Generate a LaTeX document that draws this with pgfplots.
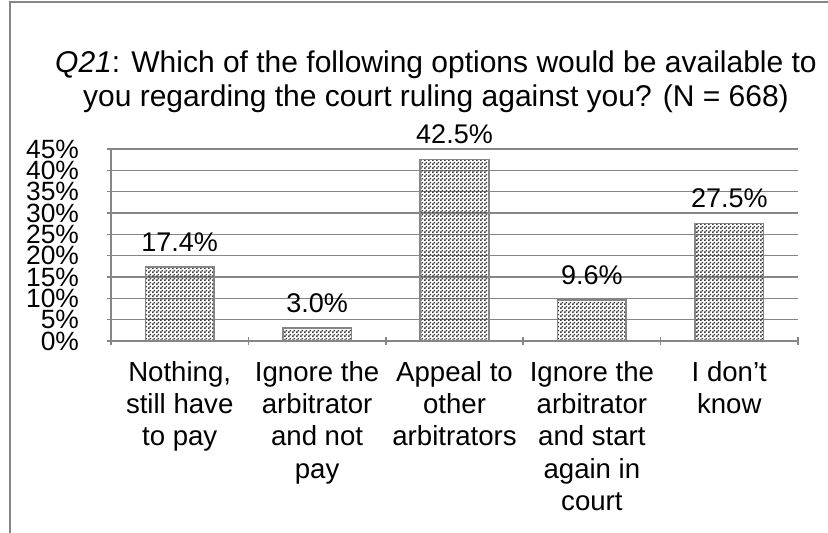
\documentclass[border=0pt]{standalone}
\usepackage{fontspec}
\setmainfont{Liberation Sans}
\usepackage{pgfplots}
\pgfplotsset{compat=1.18}
\usetikzlibrary{patterns}

\definecolor{frame}{RGB}{134,134,134}
\definecolor{hatch}{RGB}{60,60,60}

% tiny checkerboard, 1pt cells
\pgfdeclarepatternformonly{tinycheck}{\pgfpointorigin}{\pgfqpoint{2pt}{2pt}}{\pgfqpoint{2pt}{2pt}}{%
  \pgfpathrectangle{\pgfpointorigin}{\pgfqpoint{1pt}{1pt}}%
  \pgfpathrectangle{\pgfqpoint{1pt}{1pt}}{\pgfqpoint{1pt}{1pt}}%
  \pgfusepath{fill}}

\begin{document}
\begin{tikzpicture}
\useasboundingbox (-55.5pt,-96pt) rectangle (358.5pt,170.5pt);
\draw[frame, line width=1pt] (-50.5pt,-96pt) -- (-50.5pt,169.5pt) -- (358.5pt,169.5pt);

\begin{axis}[
  at={(0,0)}, anchor=south west,
  scale only axis,
  width=343.5pt, height=96pt,
  ybar, bar width=0.5,
  xmin=0.5, xmax=5.5,
  ymin=0, ymax=45,
  ytick={0,5,...,45},
  yticklabel={\pgfmathprintnumber{\tick}\%},
  xtick={1,2,3,4,5},
  xticklabels={{Nothing,\\still have\\to pay},
                {Ignore the\\arbitrator\\and not\\pay},
                {Appeal to\\other\\arbitrators},
                {Ignore the\\arbitrator\\and start\\again in\\court},
                {I don’t\\know}},
  minor xtick={0.5,1.5,...,5.5},
  major x tick style={draw=none},
  tick align=outside,
  major tick length=4pt, minor tick length=4pt,
  tick style={frame, line width=0.8pt},
  axis x line=bottom, axis y line=left,
  axis line style={-, frame, line width=0.8pt},
  ymajorgrids, grid style={frame, line width=0.8pt},
  /pgf/number format/assume math mode=true,
  tick label style={font=\fontsize{13.5}{16}\selectfont},
  every y tick label/.append style={font=\fontsize{13.2}{16}\selectfont, anchor=east, xshift=-10.5pt},
  xticklabel style={align=center, yshift=-4.5pt, font=\fontsize{13.8}{16.2}\selectfont},
  nodes near coords={\pgfmathprintnumber[fixed,fixed zerofill,precision=1]{\pgfplotspointmeta}\%},
  every node near coord/.append style={font=\fontsize{13.5}{16}\selectfont, yshift=4pt,
    /pgf/number format/assume math mode=true},
]
\addplot[draw=frame, line width=0.8pt, pattern=tinycheck, pattern color=hatch]
  coordinates {(1,17.4) (2,3.0) (3,42.5) (4,9.6) (5,27.5)};
\end{axis}

\node[align=center, font=\fontsize{15}{17}\selectfont, anchor=base] at (162.5pt,117pt)
  {\textit{Q21}: Which of the following options would be available to\\
   you regarding the court ruling against you? (N = 668)};
\end{tikzpicture}
\end{document}
